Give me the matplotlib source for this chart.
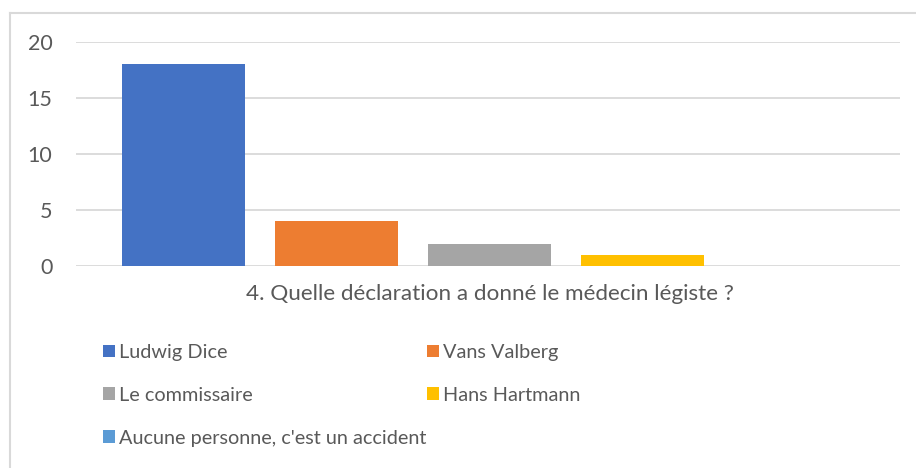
import matplotlib.pyplot as plt
from matplotlib.patches import Patch
from matplotlib.lines import Line2D

# Data
category = "4. Quelle déclaration a donné le médecin légiste ?"
series_names = ["Ludwig Dice", "Vans Valberg", "Le commissaire", "Hans Hartmann",
                "Aucune personne, c'est un accident"]
values = [18, 4, 2, 1, 0]
colors = ["#4472C4", "#ED7D31", "#A5A5A5", "#FFC000", "#5B9BD5"]
yticks = [0, 5, 10, 15, 20]

plt.rcParams['font.family'] = ['Lato', 'DejaVu Sans']
text_color = "#595959"
grid_color = "#D9D9D9"

fig = plt.figure(figsize=(9.16, 4.68), dpi=100)
ax = fig.add_axes([76 / 916, 1 - 266 / 468, 824 / 916, 224 / 468])

# Bars: one category, five series side by side
n = len(values)
width = 0.804
for i, (v, c) in enumerate(zip(values, colors)):
    ax.bar(i - (n - 1) / 2, v, width=width, color=c, zorder=3)

ax.set_xlim(-2.703, 2.683)
ax.set_ylim(0, 20)
ax.set_yticks(yticks)
ax.set_xticks([0])
ax.set_xticklabels([category])
ax.tick_params(axis='y', length=0, pad=17, labelsize=15.5, labelcolor=text_color)
ax.tick_params(axis='x', length=0, pad=13, labelsize=16.2, labelcolor=text_color)
ax.yaxis.grid(True, color=grid_color, linewidth=1.3, zorder=0)
for s in ax.spines.values():
    s.set_visible(False)

# Legend (two columns, filled row by row as in the original)
order = [0, 2, 4, 1, 3]
handles = [Patch(facecolor=colors[i], edgecolor='none') for i in order]
labels = [series_names[i] for i in order]
leg = fig.legend(handles, labels, ncol=2, loc='upper left',
                 bbox_to_anchor=(93 / 916, 1 - 334 / 468), frameon=False,
                 fontsize=14.3, labelcolor=text_color, handlelength=0.6,
                 handleheight=0.6, handletextpad=0.22, columnspacing=0.0,
                 labelspacing=1.3, borderpad=0)

# Chart border (left and top edges visible)
fig.add_artist(Line2D([10 / 916, 10 / 916], [0, 1 - 13 / 468], transform=fig.transFigure,
                      color=grid_color, linewidth=1.5))
fig.add_artist(Line2D([10 / 916, 1], [1 - 13 / 468, 1 - 13 / 468], transform=fig.transFigure,
                      color=grid_color, linewidth=1.5))

fig.savefig("out.png", dpi=100, facecolor="white")
